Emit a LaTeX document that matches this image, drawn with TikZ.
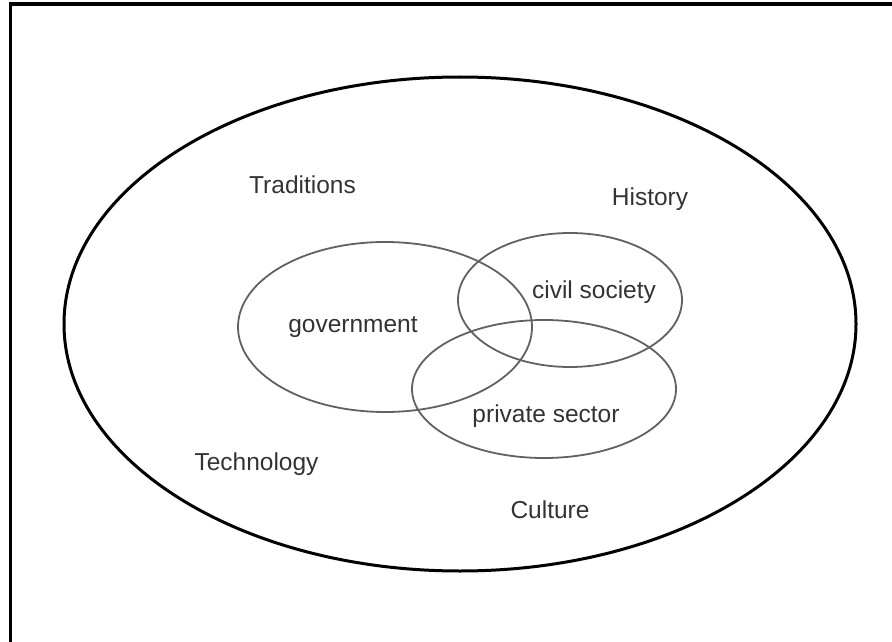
\documentclass[tikz,border=0pt]{standalone}
\usepackage{fontspec}
\setmainfont{Liberation Sans}
\tikzset{
	lbl/.style={anchor=base,inner sep=0pt,text=black!80,font=\fontsize{24.5}{29}\selectfont},
	outer/.style={line width=3pt,black},
	inner/.style={line width=1.8pt,black!62}
}
\begin{document}
\begin{tikzpicture}[x=1pt,y=-1pt]
				\useasboundingbox (0,0) rectangle (892,642);
				\draw [line width=3.5pt] (892,4) -- (10.5,4) -- (10.5,642);
				\draw [outer] (460,324) ellipse [x radius=396pt, y radius=247pt];
				\draw [inner] (385,327) ellipse [x radius=147pt, y radius=85pt];
				\draw [inner] (570,300) ellipse [x radius=112pt, y radius=67pt];
				\draw [inner] (544,389) ellipse [x radius=132pt, y radius=69pt];
				\node [lbl] (traditions) at (302.5,193) {Traditions};
				\node [lbl] (history) at (650,205) {History};
				\node [lbl] (government) at (353,332) {government};
				\node [lbl] (civil) at (594,298) {civil society};
				\node [lbl] (private) at (546,422) {private sector};
				\node [lbl] (technology) at (256.5,470) {Technology};
				\node [lbl] (culture) at (550,518) {Culture};
			\end{tikzpicture}
\end{document}
